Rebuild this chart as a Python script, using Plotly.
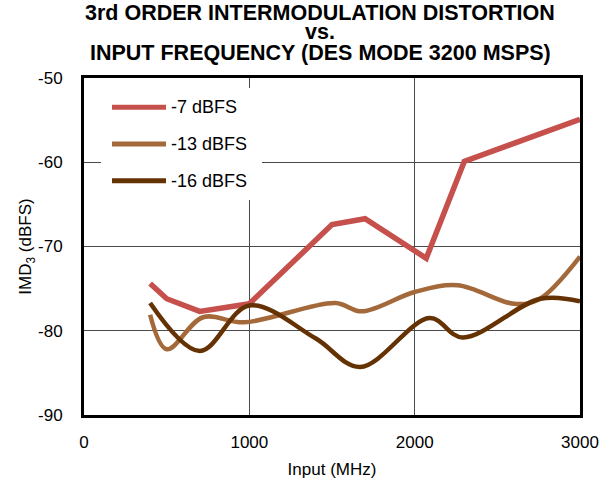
import plotly.graph_objects as go

# IMD3 vs input frequency, DES mode 3200 MSPS
freq_7 = [400, 500, 700, 1000, 1500, 1700, 2070, 2300, 3000]
imd_7 = [-74.4, -76.2, -77.7, -76.8, -67.4, -66.7, -71.4, -59.9, -54.9]

freq_13 = [400, 500, 720, 970, 1520, 1680, 2000, 2260, 2600, 2750, 3000]
imd_13 = [-78.1, -82.2, -78.4, -79.0, -76.7, -77.7, -75.4, -74.6, -76.8, -76.3, -71.2]

freq_16 = [400, 700, 1000, 1400, 1670, 2090, 2290, 2760, 3000]
imd_16 = [-76.7, -82.4, -77.0, -80.9, -84.3, -78.5, -80.8, -76.2, -76.5]

series_names = ["-7 dBFS", "-13 dBFS", "-16 dBFS"]
series_colors = ["#c5504c", "#a3693a", "#653204"]

x_ticks = [0, 1000, 2000, 3000]
x_tick_text = ["0", "1000", "2000", "3000"]
y_ticks = [-50, -60, -70, -80, -90]
y_tick_text = ["-50", "-60", "-70", "-80", "-90"]

FONT = "Liberation Sans, Arial, sans-serif"
TITLE_FONT = "Liberation Sans Narrow, Arial Narrow, Liberation Sans, sans-serif"

fig = go.Figure()
fig.add_trace(go.Scatter(x=freq_7, y=imd_7, mode="lines", name=series_names[0],
                         line=dict(color=series_colors[0], width=5.5)))
fig.add_trace(go.Scatter(x=freq_13, y=imd_13, mode="lines", name=series_names[1],
                         line=dict(color=series_colors[1], width=4.5, shape="spline", smoothing=1)))
fig.add_trace(go.Scatter(x=freq_16, y=imd_16, mode="lines", name=series_names[2],
                         line=dict(color=series_colors[2], width=4.5, shape="spline", smoothing=1)))

# plot-area geometry (pixels) used for the legend box placement
L, R, T, B = 84, 580, 78, 415
W, H = R - L, B - T


def px(xp):
    return (xp - L) / W


def py(yp):
    return (B - yp) / H


# legend: white box, line samples and labels
shapes = [dict(type="rect", xref="paper", yref="paper", x0=px(101), x1=px(262),
               y0=py(200), y1=py(88), fillcolor="white", line=dict(width=0), layer="above")]
annotations = []
rows = [107.3, 144.0, 180.7]
for name, color, yr in zip(series_names, series_colors, rows):
    shapes.append(dict(type="line", xref="paper", yref="paper", x0=px(112), x1=px(166),
                       y0=py(yr), y1=py(yr), line=dict(color=color, width=5), layer="above"))
    annotations.append(dict(xref="paper", yref="paper", x=px(169), y=py(yr), text=name,
                            showarrow=False, xanchor="left", yanchor="middle",
                            font=dict(family=FONT, size=18, color="black")))

# three-line title with tight line spacing
title_lines = ["3rd ORDER INTERMODULATION DISTORTION", "vs.", "INPUT FREQUENCY (DES MODE 3200 MSPS)"]
title_base = [23.5, 42.5, 63.5]
for txt, yb in zip(title_lines, title_base):
    annotations.append(dict(xref="paper", yref="paper", x=px(320), y=py(yb), text="<b>" + txt + "</b>",
                            showarrow=False, xanchor="center", yanchor="bottom", yshift=-4,
                            font=dict(family=TITLE_FONT, size=21.5, color="black")))

fig.update_layout(
    width=613, height=481,
    margin=dict(l=L, r=613 - R, t=T, b=481 - B, pad=0, autoexpand=False),
    paper_bgcolor="white", plot_bgcolor="white",
    showlegend=False,
    shapes=shapes, annotations=annotations,
    font=dict(family=FONT, size=17, color="black"),
)
fig.update_xaxes(range=[0, 3000], tickvals=x_ticks, ticktext=x_tick_text, automargin=False,
                 showgrid=True, gridcolor="#4a4a4a", gridwidth=1,
                 showline=True, linecolor="black", linewidth=3, mirror=True, zeroline=False,
                 ticks="", ticklabelstandoff=10,
                 title=dict(text="Input (MHz)", font=dict(size=17), standoff=12))
fig.update_yaxes(range=[-90, -50], tickvals=y_ticks, ticktext=y_tick_text, automargin=False,
                 showgrid=True, gridcolor="#4a4a4a", gridwidth=1,
                 showline=True, linecolor="black", linewidth=3, mirror=True, zeroline=False,
                 ticks="", ticklabelstandoff=15,
                 title=dict(text="IMD<sub>3</sub> (dBFS)", font=dict(size=17), standoff=2))

fig.write_html("out.html")
